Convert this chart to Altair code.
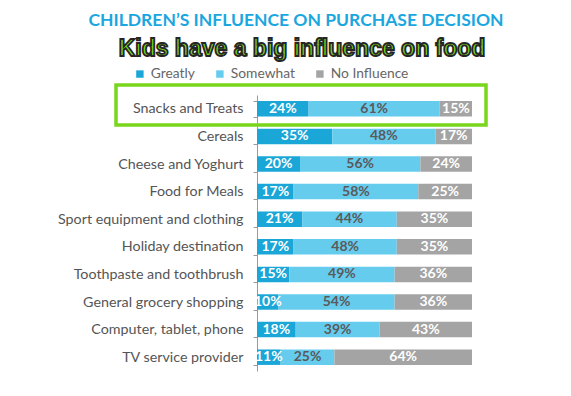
import altair as alt
import pandas as pd

categories = ["Snacks and Treats", "Cereals", "Cheese and Yoghurt", "Food for Meals",
              "Sport equipment and clothing", "Holiday destination",
              "Toothpaste and toothbrush", "General grocery shopping",
              "Computer, tablet, phone", "TV service provider"]
greatly = [24, 35, 20, 17, 21, 17, 15, 10, 18, 11]
somewhat = [61, 48, 56, 58, 44, 48, 49, 54, 39, 25]
no_influence = [15, 17, 24, 25, 35, 35, 36, 36, 43, 64]
series = ["Greatly", "Somewhat", "No Influence"]
colors = ["#1aa6d7", "#66ccee", "#a4a4a4"]
text_colors = ["#ffffff", "#5a5a5a", "#ffffff"]

rows = []
for i, c in enumerate(categories):
    start = 0
    for s, v, tc in zip(series, [greatly[i], somewhat[i], no_influence[i]], text_colors):
        rows.append({"cat": c, "series": s, "value": v, "start": start,
                     "end": start + v, "mid": start + v / 2,
                     "label": f"{v}%", "tcolor": tc})
        start += v
df = pd.DataFrame(rows)

W, H = 215, 276

ycat = alt.Y("cat:N", sort=categories, title=None,
             scale=alt.Scale(paddingInner=0.44, paddingOuter=0.22),
             axis=alt.Axis(labelFont="Lato", labelFontSize=14.3, labelColor="#555555",
                           labelPadding=10, tickBand="extent", tickSize=4,
                           tickColor="#9a9a9a", domainColor="#9a9a9a", labelLimit=300))

bars = alt.Chart(df).mark_bar().encode(
    y=ycat,
    x=alt.X("start:Q", scale=alt.Scale(domain=[0, 100], nice=False), axis=None),
    x2="end:Q",
    color=alt.Color("series:N", sort=series,
                    scale=alt.Scale(domain=series, range=colors),
                    legend=alt.Legend(title=None, orient="none", direction="horizontal",
                                      legendX=-124, legendY=-28, symbolType="square",
                                      symbolSize=55, symbolStrokeWidth=0,
                                      labelFont="Lato", labelFontSize=13.8,
                                      labelColor="#666666", columnPadding=18,
                                      symbolOffset=0, labelOffset=4)),
)

labels = alt.Chart(df).mark_text(font="Lato", fontSize=14, fontWeight="bold").encode(
    y=alt.Y("cat:N", sort=categories),
    x=alt.X("mid:Q"),
    text="label:N",
    color=alt.Color("tcolor:N", scale=None),
)

title_df = pd.DataFrame({"t": ["CHILDREN\u2019S INFLUENCE ON PURCHASE DECISION"]})
title = alt.Chart(title_df).mark_text(font="Lato", fontSize=17.5, fontWeight="bold",
                                      color="#1aa7e0", align="center",
                                      baseline="alphabetic").encode(
    x=alt.value(39), y=alt.value(-69.5), text="t:N")

sub_df = pd.DataFrame({"t": ["Kids have a big influence on food"]})
sub = alt.Chart(sub_df).mark_text(font="Liberation Sans", fontSize=23, fontWeight="bold",
                                  color="#7cdc1e", stroke="#262626", strokeWidth=1.8,
                                  align="center", baseline="alphabetic").encode(
    x=alt.value(45), y=alt.value(-39), text="t:N")

box = alt.Chart(pd.DataFrame({"a": [0]})).mark_rect(fill=None, stroke="#7ad61c",
                                                    strokeWidth=3.5).encode(
    x=alt.value(-141), x2=alt.value(229), y=alt.value(-10), y2=alt.value(30))

chart = alt.layer(bars, labels, box, title, sub).properties(
    width=W, height=H,
    autosize=alt.AutoSizeParams(type="none"),
    padding={"left": 249, "top": 87, "right": 91, "bottom": 17},
).configure_view(stroke=None)

chart.save("out.html", embed_options={"renderer": "svg", "actions": False})
